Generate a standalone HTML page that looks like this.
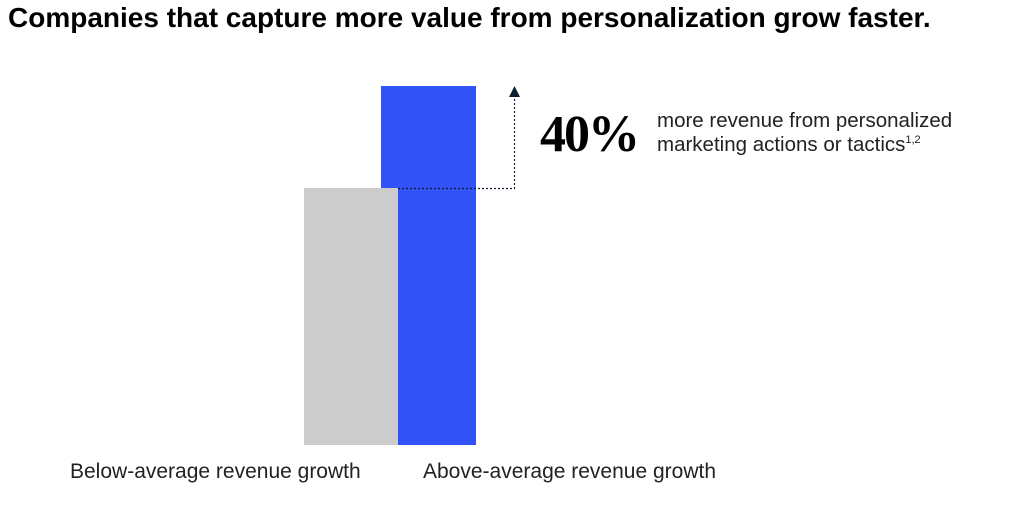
<!DOCTYPE html>
<html><head><style>
body{margin:0;width:1024px;height:513px;background:#fff;position:relative;overflow:hidden;font-family:"Liberation Sans",sans-serif;color:#000}
.a{position:absolute;white-space:nowrap}
</style></head><body>
<div class="a" style="left:8px;top:2px;font-size:28px;font-weight:bold;letter-spacing:0px">Companies that capture more value from personalization grow faster.</div>
<div class="a" style="left:381px;top:86px;width:95px;height:359px;background:#3052f6"></div>
<div class="a" style="left:304px;top:188px;width:94px;height:257px;background:#cccccc"></div>
<svg class="a" style="left:0;top:0" width="1024" height="513">
<path d="M398 188.5 H514.5 V96" fill="none" stroke="#0e1e33" stroke-width="1.2" stroke-dasharray="2,2"/>
<path d="M509 97 L514.5 86 L520 97 Z" fill="#0e1e33"/>
</svg>
<div class="a" style="left:540px;top:105px;font-family:'Liberation Serif',serif;font-weight:bold;font-size:52px;line-height:60px;letter-spacing:-2px">40%</div>
<div class="a" style="left:657px;top:109px;font-size:20.5px;line-height:24px;color:#222">more revenue from personalized<br>marketing actions or tactics<sup style="font-size:11px;line-height:0">1,2</sup></div>
<div class="a" style="left:70px;top:460px;font-size:21px;color:#222">Below-average revenue growth</div>
<div class="a" style="left:423px;top:460px;font-size:21px;color:#222">Above-average revenue growth</div>
</body></html>
